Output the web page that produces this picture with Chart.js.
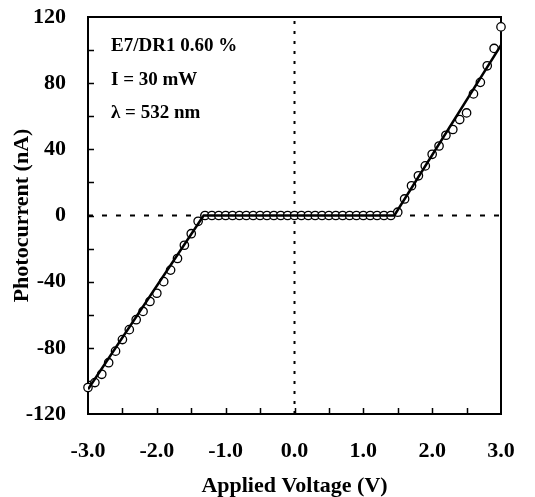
<!DOCTYPE html>
<html>
<head>
<meta charset="utf-8">
<script src="https://cdn.jsdelivr.net/npm/chart.js@4/dist/chart.umd.min.js"></script>
<style>
  html, body { margin: 0; padding: 0; background: #fff; }
  #wrap { width: 535px; height: 497px; }
</style>
</head>
<body>
<div id="wrap"><canvas id="c" width="535" height="497"></canvas></div>
<script>
// Measured photocurrent vs applied voltage (0.1 V steps)
const voltage = [
  -3.0, -2.9, -2.8, -2.7, -2.6, -2.5, -2.4, -2.3, -2.2, -2.1,
  -2.0, -1.9, -1.8, -1.7, -1.6, -1.5, -1.4, -1.3, -1.2, -1.1,
  -1.0, -0.9, -0.8, -0.7, -0.6, -0.5, -0.4, -0.3, -0.2, -0.1,
   0.0,  0.1,  0.2,  0.3,  0.4,  0.5,  0.6,  0.7,  0.8,  0.9,
   1.0,  1.1,  1.2,  1.3,  1.4,  1.5,  1.6,  1.7,  1.8,  1.9,
   2.0,  2.1,  2.2,  2.3,  2.4,  2.5,  2.6,  2.7,  2.8,  2.9,
   3.0
];
const current = [
  -104, -101, -96, -89, -82, -75, -69, -63, -58, -52,
   -47,  -40, -33, -26, -18, -11, -3.5, 0, 0, 0,
     0,    0,   0,   0,   0,   0,   0,  0, 0, 0,
     0,    0,   0,   0,   0,   0,   0,  0, 0, 0,
     0,    0,   0,   0,   0,   2,  10, 18, 24, 30,
    37,   42, 48.5, 52,  58,  62, 73.5, 80.5, 90.5, 101,
   114
];

// Piecewise linear fit
const fitVoltage = [-3.0, -1.32, 1.45, 3.0];
const fitCurrent = [-105, 0, 0, 103];

// Axis ticks
const xTickLabels = [-3.0, -2.0, -1.0, 0.0, 1.0, 2.0, 3.0];
const yTickLabels = [-120, -80, -40, 0, 40, 80, 120];
const xTickMarks = [-2.5, -2.0, -1.5, -1.0, -0.5, 0.0, 0.5, 1.0, 1.5, 2.0, 2.5];
const yTickMarks = [-100, -80, -60, -40, -20, 0, 20, 40, 60, 80, 100];

const notes = ['E7/DR1 0.60 %', 'I = 30 mW', '\u03bb = 532 nm'];

const serif = '"Liberation Serif", "Times New Roman", serif';
const tickFont = { family: serif, size: 22, weight: 'bold' };
const titleFont = { family: serif, size: 22, weight: 'bold', lineHeight: 1.0 };

const framePlugin = {
  id: 'frame',
  beforeDatasetsDraw(chart) {
    const { ctx, chartArea: a, scales: { x, y } } = chart;
    ctx.save();
    ctx.strokeStyle = '#000';
    ctx.lineWidth = 2;
    ctx.strokeRect(a.left, a.top, a.right - a.left, a.bottom - a.top);
    ctx.lineWidth = 1.5;
    ctx.beginPath();
    xTickMarks.forEach(v => {
      const px = Math.round(x.getPixelForValue(v)) + 0.5;
      ctx.moveTo(px, a.bottom);
      ctx.lineTo(px, a.bottom - 6);
    });
    yTickMarks.forEach(v => {
      const py = Math.round(y.getPixelForValue(v)) + 0.5;
      ctx.moveTo(a.left, py);
      ctx.lineTo(a.left + 6, py);
    });
    ctx.stroke();
    ctx.restore();
  },
  afterDatasetsDraw(chart) {
    const { ctx, chartArea: a } = chart;
    ctx.save();
    ctx.fillStyle = '#000';
    ctx.font = 'bold 19px ' + serif;
    ctx.textBaseline = 'alphabetic';
    notes.forEach((t, i) => ctx.fillText(t, a.left + 23, a.top + 34 + i * 33.5));
    ctx.restore();
  }
};

new Chart(document.getElementById('c'), {
  type: 'scatter',
  data: {
    datasets: [
      {
        label: 'fit',
        data: fitVoltage.map((v, i) => ({ x: v, y: fitCurrent[i] })),
        showLine: true,
        borderColor: '#000',
        borderWidth: 2.5,
        pointRadius: 0,
        fill: false
      },
      {
        label: 'measured',
        data: voltage.map((v, i) => ({ x: v, y: current[i] })),
        showLine: false,
        pointStyle: 'circle',
        pointRadius: 4.2,
        pointBorderWidth: 1.3,
        pointBorderColor: '#000',
        pointBackgroundColor: '#fff',
        clip: false
      },
      {
        label: 'x0',
        data: [{ x: 0, y: -120 }, { x: 0, y: 120 }],
        showLine: true,
        borderColor: '#000',
        borderWidth: 2,
        borderDash: [3, 7],
        borderCapStyle: 'butt',
        pointRadius: 0
      },
      {
        label: 'y0',
        data: [{ x: -3, y: 0 }, { x: 3, y: 0 }],
        showLine: true,
        borderColor: '#000',
        borderWidth: 2,
        borderDash: [5, 9],
        borderCapStyle: 'butt',
        pointRadius: 0
      }
    ]
  },
  options: {
    responsive: false,
    animation: false,
    devicePixelRatio: 1,
    layout: { padding: { left: 0, right: 34, top: 17, bottom: 0 } },
    plugins: { legend: { display: false }, tooltip: { enabled: false } },
    scales: {
      x: {
        type: 'linear',
        min: -3, max: 3,
        afterBuildTicks: s => { s.ticks = xTickLabels.map(v => ({ value: v })); },
        afterFit: s => { s.height = 83; },
        grid: { display: false, drawTicks: true, tickLength: 24 },
        border: { display: false },
        ticks: {
          color: '#000', font: tickFont, padding: 0, maxRotation: 0,
          callback: v => Number(v).toFixed(1)
        },
        title: {
          display: true, text: 'Applied Voltage (V)', color: '#000',
          font: titleFont, padding: { top: 0, bottom: 0 }
        }
      },
      y: {
        type: 'linear',
        min: -120, max: 120,
        afterBuildTicks: s => { s.ticks = yTickLabels.map(v => ({ value: v })); },
        afterFit: s => { s.width = 88; },
        grid: { display: false, drawTicks: true, tickLength: 22 },
        border: { display: false },
        ticks: { color: '#000', font: tickFont, padding: 0 },
        title: {
          display: true, text: 'Photocurrent (nA)', color: '#000',
          font: titleFont, padding: { top: 11, bottom: 0 }
        }
      }
    }
  },
  plugins: [framePlugin]
});
</script>
</body>
</html>
